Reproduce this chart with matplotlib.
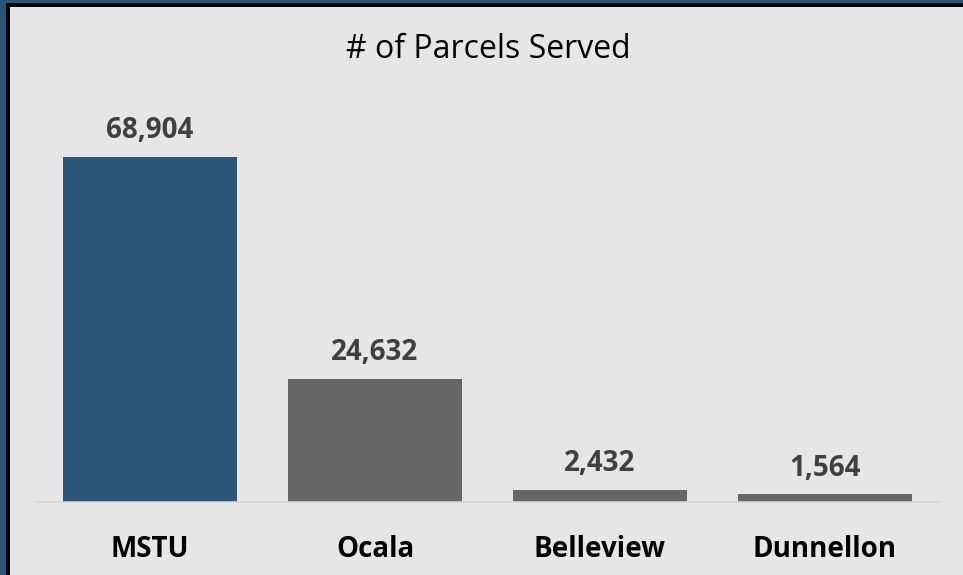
import matplotlib.pyplot as plt
from matplotlib.patches import Rectangle

plt.rcParams["font.family"] = ["Open Sans", "DejaVu Sans"]

categories = ["MSTU", "Ocala", "Belleview", "Dunnellon"]
parcels = [68904, 24632, 2432, 1564]
bar_colors = ["#2c5678", "#666666", "#666666", "#666666"]

W, H = 963, 575
fig = plt.figure(figsize=(W / 100, H / 100), dpi=100)
fig.patch.set_facecolor("#e6e6e6")

# frame on left and top edges (navy outside, black inside)
fig.add_artist(Rectangle((0, 0), 6 / W, 1, transform=fig.transFigure,
                         color="#2b5477", lw=0, zorder=5))
fig.add_artist(Rectangle((0, 1 - 3 / H), 1, 3 / H, transform=fig.transFigure,
                         color="#2b5477", lw=0, zorder=5))
fig.add_artist(Rectangle((6 / W, 0), 4 / W, 1 - 3 / H, transform=fig.transFigure,
                         color="#000000", lw=0, zorder=5))
fig.add_artist(Rectangle((6 / W, 1 - 7 / H), 1 - 6 / W, 4 / H,
                         transform=fig.transFigure, color="#000000", lw=0, zorder=5))

ymax = 80000
px_per_unit = 345 / 68904
base_px = 502
top_px = base_px - ymax * px_per_unit
ax = fig.add_axes([37.5 / W, (H - base_px) / H, 900 / W, (base_px - top_px) / H])
ax.set_facecolor("#e6e6e6")

x = range(len(categories))
ax.bar(x, parcels, width=0.775, color=bar_colors, zorder=2)
ax.set_xlim(-0.5, len(categories) - 0.5)
ax.set_ylim(0, ymax)

for xi, v in zip(x, parcels):
    ax.annotate(f"{v:,}", (xi, v), xytext=(0, 26), textcoords="offset pixels",
                ha="center", va="center", fontsize=20, fontweight="bold",
                color="#404040")

ax.set_xticks(list(x))
ax.set_xticklabels(categories, fontsize=20, fontweight="bold", color="#000000",
                   va="center")
ax.tick_params(axis="x", length=0, pad=34)
ax.set_yticks([])
for s in ["top", "right", "left"]:
    ax.spines[s].set_visible(False)
ax.spines["bottom"].set_color("#d4d4d4")
ax.spines["bottom"].set_linewidth(1.2)

fig.text(488 / W, 1 - 50 / H, "# of Parcels Served", ha="center", va="center",
         fontsize=23, color="#000000")

fig.savefig("out.png", dpi=100, facecolor=fig.get_facecolor())
